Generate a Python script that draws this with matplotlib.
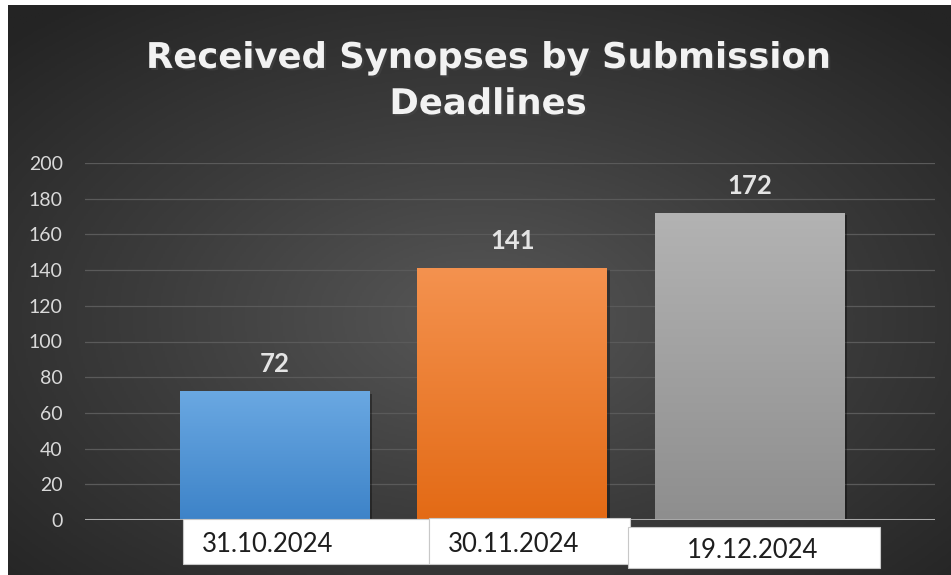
import numpy as np
import matplotlib.pyplot as plt
import matplotlib.patheffects as pe
from matplotlib.colors import LinearSegmentedColormap, to_rgb
from matplotlib.patches import Rectangle

# ------------------------------------------------------------
# data
# ------------------------------------------------------------
deadlines = ["31.10.2024", "30.11.2024", "19.12.2024"]
synopses = [72, 141, 172]
bar_top_colors = ["#6aa8e2", "#f4924f", "#b3b3b3"]
bar_bottom_colors = ["#3d83c8", "#e36a15", "#8e8e8e"]
title = "Received Synopses by Submission\nDeadlines"
y_ticks = list(range(0, 201, 20))

W, H = 951, 575
plt.rcParams['font.family'] = ['Lato', 'DejaVu Sans']

fig = plt.figure(figsize=(W / 100, H / 100), dpi=100)
fig.patch.set_facecolor("white")


def fx(px):
    return px / W


def fy(py):
    # py measured from top of picture
    return 1 - py / H


# dark radial background of the chart
bg = fig.add_axes([fx(8), 0, fx(W - 8), fy(5)], zorder=-10)
yy, xx = np.mgrid[0:1:300j, 0:1:480j]
d = np.sqrt(((xx - 0.5) / 0.5) ** 2 + ((yy - 0.55) / 0.5) ** 2) / np.sqrt(2)
bg_cmap = LinearSegmentedColormap.from_list("bg", ["#575757", "#3c3c3c", "#242424"])
bg.imshow(d, cmap=bg_cmap, aspect="auto", extent=[0, 1, 0, 1], vmin=0, vmax=1)
bg.set_axis_off()

# main plot area
ax = fig.add_axes([fx(85), fy(520), fx(850), (520 - 163) / H])
ax.set_facecolor("none")
x = np.arange(len(deadlines))
bars = ax.bar(x, synopses, width=0.80, color="none", zorder=3)

shadow = [pe.SimplePatchShadow(offset=(1.5, -1.5), shadow_rgbFace="black", alpha=0.35), pe.Normal()]
for rect, c_top, c_bot in zip(bars, bar_top_colors, bar_bottom_colors):
    x0, w, h = rect.get_x(), rect.get_width(), rect.get_height()
    base = Rectangle((x0, 0), w, h, facecolor=c_bot, edgecolor="none", zorder=2,
                     path_effects=shadow)
    ax.add_patch(base)
    grad = np.linspace(0, 1, 256).reshape(-1, 1)
    cm = LinearSegmentedColormap.from_list("g", [to_rgb(c_bot), to_rgb(c_top)])
    im = ax.imshow(grad, cmap=cm, aspect="auto", origin="lower",
                   extent=[x0, x0 + w, 0, h], zorder=3)
    im.set_clip_path(rect)

for xi, v in zip(x, synopses):
    ax.annotate(str(v), (xi, v), xytext=(0, 14), textcoords="offset points",
                ha="center", va="baseline", fontsize=18.5, fontweight="bold",
                color="#e4e4e4", zorder=5)

ax.set_xlim(-0.8, 2.779)
ax.set_ylim(0, 200)
ax.set_yticks(y_ticks)
ax.set_xticks([])
ax.tick_params(axis="y", length=0, pad=16, labelsize=14, labelcolor="#d9d9d9")
for s in ax.spines.values():
    s.set_visible(False)
ax.grid(axis="y", color="#5a5a5a", lw=0.9, zorder=0)
ax.axhline(0, color="#a8a8a8", lw=2.2, zorder=4)

# title
fig.text(fx(488), fy(81), title, ha="center", va="center", fontsize=25.5,
         fontweight="bold", family=["DejaVu Sans"], color="#f2f2f2", linespacing=1.45,
         path_effects=[pe.SimplePatchShadow(offset=(1.5, -1.5), alpha=0.5), pe.Normal()])

# white label boxes pasted under the axis
boxes = [(183, 519, 429, 564), (429, 518, 630, 564), (628, 527, 880, 568)]
text_pos = [(268, 545), (514, 545), (753, 550)]
for (l, t, r, b), (tx, ty), lab in zip(boxes, text_pos, deadlines):
    fig.patches.append(Rectangle((fx(l), fy(b)), fx(r - l), (b - t) / H,
                                 transform=fig.transFigure, facecolor="white",
                                 edgecolor="#c8c8c8", lw=0.8, zorder=20))
    fig.text(fx(tx), fy(ty), lab, ha="center", va="center", fontsize=18.5,
             color="#1e1e1e", zorder=21)

fig.savefig("out.png", dpi=100)
